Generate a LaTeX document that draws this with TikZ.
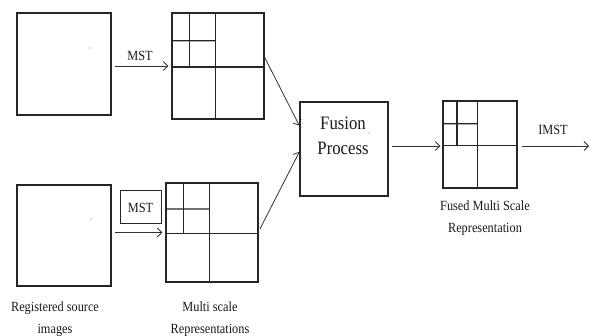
\documentclass[tikz,border=0pt]{standalone}
\usepackage{fontspec}
\setmainfont{Liberation Serif}
\newfontfamily\narrowserif[FakeStretch=0.88]{Liberation Serif}
\usetikzlibrary{arrows.meta,calc}
\tikzset{
  x=1pt, y=-1pt,
  box/.style={draw=black!85, line width=1.3pt, minimum width=#1, inner sep=0pt},
  grid/.style={draw=black!85, line width=1.3pt, inner sep=0pt},
  gridline/.style={draw=black!85, line width=1.2pt},
  flow/.style={draw=black!80, line width=0.8pt, -{Straight Barb[length=4.5pt,width=9pt,line width=0.8pt]}},
  lbl/.style={font=\narrowserif\fontsize{14}{22}\selectfont, align=center, inner sep=0pt, text=black!90},
  big/.style={font=\narrowserif\fontsize{19}{25}\selectfont, align=center, inner sep=0pt, text=black!90},
  speck/.style={fill=black!55}
}
% quadtree-style split of a multi-scale representation node
\newcommand\splitgrid[1]{%
  \draw[gridline] ($(#1.north west)!0.51!(#1.south west)$) -- ($(#1.north east)!0.51!(#1.south east)$);
  \draw[gridline] ($(#1.north west)!0.47!(#1.north east)$) -- ($(#1.south west)!0.47!(#1.south east)$);
  \draw[gridline] ($(#1.north west)!0.195!(#1.north east)$) -- ($($(#1.north west)!0.51!(#1.south west)$)!0.195!($(#1.north east)!0.51!(#1.south east)$)$);
  \draw[gridline] ($(#1.north west)!0.265!(#1.south west)$) -- ($($(#1.north west)!0.265!(#1.south west)$)!0.47!($(#1.north east)!0.265!(#1.south east)$)$);
}
\begin{document}
\begin{tikzpicture}
\useasboundingbox (0,0) rectangle (591,336);

% source images
\node[box=94pt, minimum height=102pt] (src1) at (64,64) {};
\node[box=94pt, minimum height=101pt] (src2) at (64,235.5) {};
\fill[speck] (90,48) circle (0.7);
\fill[speck] (91,219) circle (0.7);

% multi-scale representations
\node[grid, minimum width=92pt, minimum height=106pt] (mr1) at (218,66) {};
\node[grid, minimum width=92pt, minimum height=99pt] (mr2) at (212,232.5) {};
\splitgrid{mr1}
\splitgrid{mr2}

% fusion block
\node[box=88pt, minimum height=94pt] (fus) at (344,149) {};
\node[big] (fustxt) at (343,135.5) {Fusion\\Process};
\fill[speck] (369,133) circle (0.7);

% fused representation
\node[grid, minimum width=74pt, minimum height=87pt] (fmr) at (480,144.5) {};
\splitgrid{fmr}

% MST box on the lower branch
\node[draw=black!85, line width=1pt, minimum width=41pt, minimum height=33pt, inner sep=0pt, lbl] (mstb) at (140.5,207.5) {MST};

% connectors
\draw[flow, shorten <=3pt, shorten >=3pt] (src1.east |- mr1.west) -- (mr1.west);
\node[lbl] (mst1) at (140,56) {MST};
\draw[flow, shorten <=3pt, shorten >=3pt] (src2.east |- mr2.west) -- (mr2.west);
\draw[flow] ($(mr1.north east)!0.42!(mr1.south east)$) -- ($(fus.north west)!0.255!(fus.south west)$);
\draw[flow, shorten <=3pt] ($(mr2.north east)!0.49!(mr2.south east)$) -- ($(fus.north west)!0.53!(fus.south west)$);
\draw[flow, shorten <=3pt, shorten >=2pt] (fus.east |- 0,146) -- (fmr.west |- 0,146);
\coordinate (out) at (589,146);
\draw[flow, shorten <=4pt] (fmr.east |- out) -- (out);
\node[lbl] (imst) at (553,130) {IMST};

% captions
\node[lbl] (cap1) at (55,319) {Registered source\\images};
\node[lbl] (cap2) at (210,319) {Multi scale\\Representations};
\node[lbl] (cap3) at (485,218) {Fused Multi Scale\\Representation};
\end{tikzpicture}
\end{document}
